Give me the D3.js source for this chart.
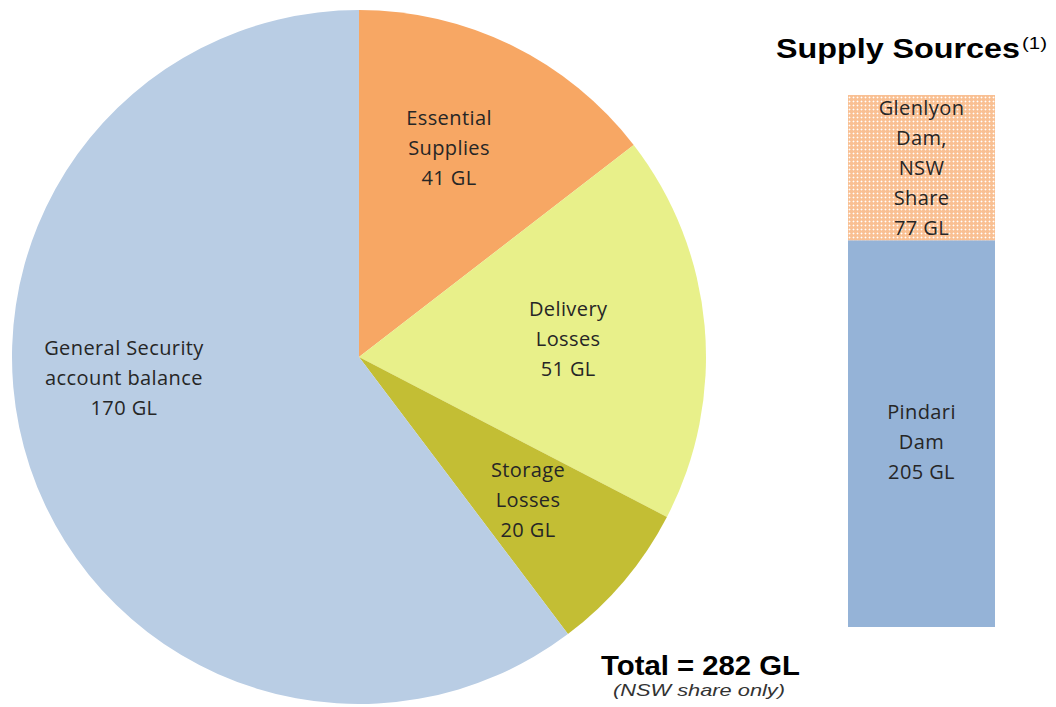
<!DOCTYPE html>
<html>
<head>
<meta charset="utf-8">
<script src="https://cdn.jsdelivr.net/npm/d3@7"></script>
<style>
  body { margin: 0; background: #fff; }
  svg text { font-family: "Open Sans", Lato, sans-serif; }
</style>
</head>
<body>
<svg id="chart" width="1056" height="707"></svg>
<script>
// pie data (GL)
const useNames = ["Essential Supplies", "Delivery Losses", "Storage Losses", "General Security account balance"];
const useValues = [41, 51, 20, 170];
const useColors = ["#f7a764", "#e8f08a", "#c3be34", "#b9cde4"];
const useLabels = [["Essential", "Supplies", "41 GL"], ["Delivery", "Losses", "51 GL"], ["Storage", "Losses", "20 GL"], ["General Security", "account balance", "170 GL"]];

// stacked bar data (GL), bottom to top
const srcNames = ["Pindari Dam", "Glenlyon Dam, NSW Share"];
const srcValues = [205, 77];
const srcLabels = [["Pindari", "Dam", "205 GL"], ["Glenlyon", "Dam,", "NSW", "Share", "77 GL"]];

const svg = d3.select("#chart");

// dotted fill for glenlyon
const defs = svg.append("defs");
const pat = defs.append("pattern")
  .attr("id", "dots")
  .attr("width", 4).attr("height", 4)
  .attr("patternUnits", "userSpaceOnUse");
pat.append("rect").attr("width", 4).attr("height", 4).attr("fill", "#f9c093");
pat.append("rect").attr("x", 1).attr("y", 1).attr("width", 1).attr("height", 1).attr("fill", "#ffffff");
pat.append("rect").attr("x", 0).attr("y", 1).attr("width", 3).attr("height", 1).attr("fill", "#fff").attr("opacity", 0.35);
pat.append("rect").attr("x", 1).attr("y", 0).attr("width", 1).attr("height", 3).attr("fill", "#fff").attr("opacity", 0.35);

// ---- pie ----
const cx = 359, cy = 357, r = 347;
const pie = d3.pie().sort(null).value(d => d)(useValues);
const arc = d3.arc().innerRadius(0).outerRadius(r);

const g = svg.append("g").attr("transform", `translate(${cx},${cy})`);
g.selectAll("path")
  .data(pie)
  .enter()
  .append("path")
  .attr("d", arc)
  .attr("fill", (d, i) => useColors[i]);

// label placement: distance ratio and angle nudge per slice
const labK = [0.656, 0.605, 0.638, 0.68];
const labDa = [-0.05, 0.003, 0.0, 0.234];
const lineH = 30;
pie.forEach((d, i) => {
  const a = (d.startAngle + d.endAngle) / 2 + labDa[i];
  const lx = Math.sin(a) * r * labK[i];
  const ly = -Math.cos(a) * r * labK[i];
  const lines = useLabels[i];
  const t = g.append("text")
    .attr("text-anchor", "middle")
    .attr("font-size", 20)
    .attr("letter-spacing", 0.4)
    .attr("fill", "#262626");
  lines.forEach((s, k) => {
    t.append("tspan")
      .attr("x", lx)
      .attr("y", ly + (k - (lines.length - 1) / 2) * lineH)
      .attr("dy", "0.35em")
      .text(s);
  });
});

// ---- stacked bar ----
const y = d3.scaleLinear().domain([0, d3.sum(srcValues)]).range([627, 95]);
const bx = 848, bw = 147;
let acc = 0;
srcValues.forEach((v, i) => {
  const y0 = y(acc), y1 = y(acc + v);
  acc += v;
  svg.append("rect")
    .attr("x", bx).attr("y", y1)
    .attr("width", bw).attr("height", y0 - y1)
    .attr("fill", i === 0 ? "#95b3d7" : "url(#dots)");
  const mid = (y0 + y1) / 2 + (i === 1 ? 0 : 8.5);
  const lines = srcLabels[i];
  const t = svg.append("text")
    .attr("text-anchor", "middle")
    .attr("font-size", 20)
    .attr("letter-spacing", 0.4)
    .attr("fill", "#262626");
  const lh = i === 1 ? 30 : 30;
  lines.forEach((s, k) => {
    t.append("tspan")
      .attr("x", bx + bw / 2)
      .attr("y", mid + (k - (lines.length - 1) / 2) * lh)
      .attr("dy", "0.35em")
      .text(s);
  });
});

// title
svg.append("text")
  .attr("x", 776).attr("y", 58)
  .style("font-family", "'Liberation Sans', Arial, sans-serif")
  .attr("font-weight", "bold")
  .attr("font-size", 28)
  .attr("textLength", 244)
  .attr("lengthAdjust", "spacingAndGlyphs")
  .text("Supply Sources");
svg.append("text")
  .attr("x", 1022).attr("y", 49)
  .style("font-family", "'Liberation Sans', Arial, sans-serif")
  .attr("font-size", 16)
  .attr("textLength", 25)
  .attr("lengthAdjust", "spacingAndGlyphs")
  .text("(1)");

// total
svg.append("text")
  .attr("x", 601).attr("y", 675)
  .style("font-family", "'Liberation Sans', Arial, sans-serif")
  .attr("font-weight", "bold")
  .attr("font-size", 27)
  .attr("textLength", 199)
  .attr("lengthAdjust", "spacingAndGlyphs")
  .text("Total = 282 GL");

svg.append("text")
  .attr("x", 613).attr("y", 696)
  .style("font-family", "'Liberation Sans', Arial, sans-serif")
  .attr("font-style", "italic")
  .attr("font-size", 17)
  .attr("fill", "#333")
  .attr("textLength", 172)
  .attr("lengthAdjust", "spacingAndGlyphs")
  .text("(NSW share only)");
</script>
</body>
</html>
